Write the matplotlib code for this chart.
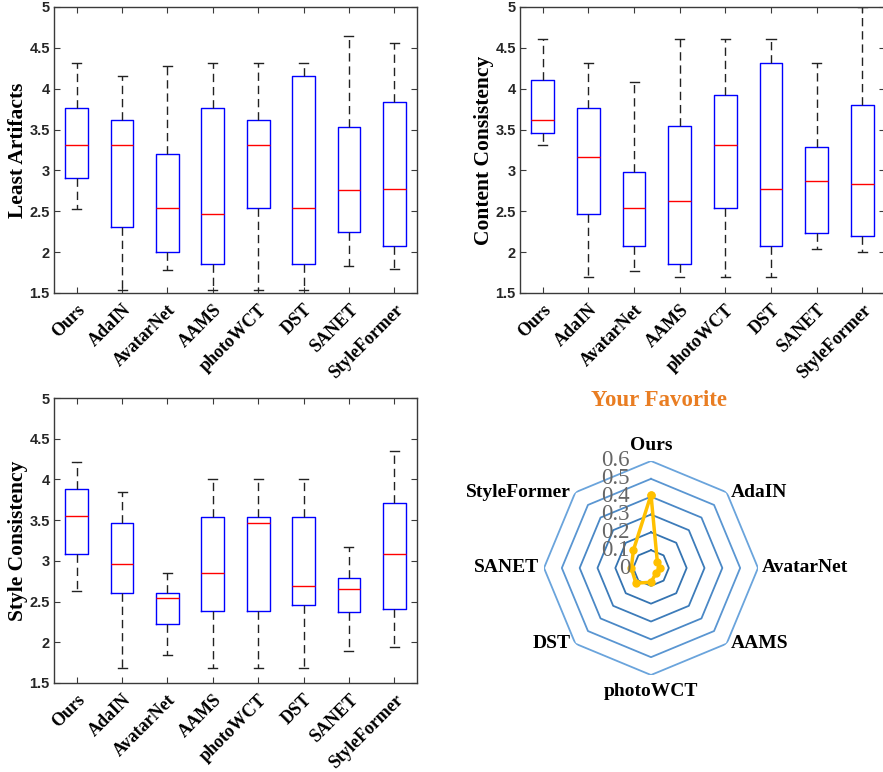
import numpy as np
import matplotlib
matplotlib.use('Agg')
import matplotlib.pyplot as plt
import matplotlib.transforms as mtransforms

methods = ['Ours', 'AdaIN', 'AvatarNet', 'AAMS', 'photoWCT', 'DST', 'SANET', 'StyleFormer']

# box stats per panel: whisker low, q1, median, q3, whisker high
artifacts_lo = [2.53, 1.54, 1.78, 1.54, 1.54, 1.54, 1.83, 1.79]
artifacts_q1 = [2.91, 2.31, 2.00, 1.85, 2.54, 1.85, 2.25, 2.07]
artifacts_med = [3.31, 3.31, 2.54, 2.47, 3.31, 2.54, 2.76, 2.77]
artifacts_q3 = [3.77, 3.62, 3.20, 3.77, 3.62, 4.16, 3.53, 3.84]
artifacts_hi = [4.31, 4.16, 4.28, 4.31, 4.31, 4.31, 4.65, 4.56]

content_lo = [3.31, 1.70, 1.77, 1.70, 1.70, 1.70, 2.04, 2.00]
content_q1 = [3.46, 2.47, 2.08, 1.85, 2.54, 2.08, 2.23, 2.20]
content_med = [3.62, 3.16, 2.54, 2.62, 3.31, 2.77, 2.87, 2.83]
content_q3 = [4.11, 3.77, 2.98, 3.54, 3.92, 4.31, 3.29, 3.80]
content_hi = [4.61, 4.31, 4.08, 4.61, 4.61, 4.61, 4.31, 5.00]

style_lo = [2.63, 1.69, 1.84, 1.69, 1.69, 1.69, 1.89, 1.94]
style_q1 = [3.08, 2.61, 2.22, 2.38, 2.38, 2.46, 2.37, 2.41]
style_med = [3.55, 2.96, 2.54, 2.85, 3.46, 2.69, 2.65, 3.08]
style_q3 = [3.88, 3.46, 2.61, 3.54, 3.54, 3.54, 2.79, 3.71]
style_hi = [4.21, 3.85, 2.85, 4.00, 4.00, 4.00, 3.17, 4.35]

# favourite vote share
favorite = [0.41, 0.05, 0.05, 0.04, 0.08, 0.12, 0.11, 0.14]
rings = [0.1, 0.2, 0.3, 0.4, 0.5, 0.6]
ring_colors = ['#2f6eaa', '#3574b2', '#3d7cba', '#4a88c6', '#5a96d2', '#6aa4dc']

SERIF = ['Liberation Serif', 'DejaVu Serif']
SANS = ['Liberation Sans', 'DejaVu Sans']
EDGE = '#3a3a3a'

fig = plt.figure(figsize=(8.83, 7.72), dpi=100)
W, H = 883.0, 772.0


def px_axes(l, t, r, b, **kw):
    return fig.add_axes([l / W, 1 - b / H, (r - l) / W, (b - t) / H], **kw)


def px_shift(dx, dy):
    return mtransforms.ScaledTranslation(dx / 100, dy / 100, fig.dpi_scale_trans)


def box_panel(ax, lo, q1, med, q3, hi, ylabel):
    stats = []
    for i, m in enumerate(methods):
        stats.append(dict(label=m, whislo=lo[i], q1=q1[i], med=med[i], q3=q3[i], whishi=hi[i], fliers=[]))
    ax.bxp(stats, positions=np.arange(1, len(methods) + 1), widths=0.5, capwidths=0.2,
           showfliers=False,
           boxprops=dict(color='#0000ff', linewidth=1.0),
           medianprops=dict(color='#ff0000', linewidth=1.0),
           whiskerprops=dict(color='#222222', linewidth=1.0, linestyle=(0, (6, 3.5))),
           capprops=dict(color='#222222', linewidth=1.0))
    ax.set_xlim(0.5, 8.5)
    ax.set_ylim(1.5, 5)
    ax.set_yticks([1.5, 2, 2.5, 3, 3.5, 4, 4.5, 5])
    ax.set_yticklabels(['1.5', '2', '2.5', '3', '3.5', '4', '4.5', '5'],
                       family=SANS, fontweight='bold', fontsize=10.5, color='#262626')
    ax.set_xticks(np.arange(1, len(methods) + 1))
    ax.set_xticklabels(methods, rotation=45, ha='right', va='top', rotation_mode='anchor',
                       family=SERIF, fontweight='bold', fontsize=13)
    for lab in ax.get_xticklabels():
        lab.set_transform(lab.get_transform() + px_shift(11, 3))
    ax.tick_params(direction='in', length=4, width=0.8, top=True, right=True, color=EDGE, pad=3)
    ax.tick_params(axis='x', pad=6)
    for s in ax.spines.values():
        s.set_color(EDGE)
        s.set_linewidth(1.0)
    ax.set_ylabel(ylabel, family=SERIF, fontweight='bold', fontsize=15.5, labelpad=1)


ax1 = px_axes(54, 7, 417, 293)
box_panel(ax1, artifacts_lo, artifacts_q1, artifacts_med, artifacts_q3, artifacts_hi, 'Least Artifacts')

ax2 = px_axes(520, 7, 885, 293)
box_panel(ax2, content_lo, content_q1, content_med, content_q3, content_hi, 'Content Consistency')

ax3 = px_axes(54, 398, 417, 683)
box_panel(ax3, style_lo, style_q1, style_med, style_q3, style_hi, 'Style Consistency')

# radar chart
R = 107
cx, cy = 651, 568
ax4 = px_axes(cx - R, cy - R, cx + R, cy + R, projection='polar')
ax4.set_theta_zero_location('N')
ax4.set_theta_direction(-1)
ang = np.linspace(0, 2 * np.pi, len(methods), endpoint=False)
ang_c = np.append(ang, ang[0])
for r, c in zip(rings, ring_colors):
    ax4.plot(ang_c, [r] * len(ang_c), color=c, linewidth=1.3)
vals = np.append(favorite, favorite[0])
ax4.plot(ang_c, vals, color='#ffc000', linewidth=2.5, marker='o', markersize=5, zorder=5)
ax4.set_ylim(0, 0.6)
ax4.grid(False)
ax4.spines['polar'].set_visible(False)
ax4.patch.set_alpha(0)
ax4.set_yticks([])
ax4.set_xticks([])

# category labels around the octagon
for a, m in zip(ang, methods):
    sx, sy = np.sin(a), np.cos(a)
    if abs(sx) < 1e-6:
        ha, dx, dy = 'center', 0, 16 * np.sign(sy)
    elif sx > 0:
        ha, dx, dy = 'left', 4, 0
    else:
        ha, dx, dy = 'right', -5, 0
    ax4.text(a, 0.6, m, transform=ax4.transData + px_shift(dx, dy), ha=ha, va='center',
             family=SERIF, fontweight='bold', fontsize=14, clip_on=False)

for r in [0] + rings:
    ax4.text(0, r, '%g' % r, transform=ax4.transData + px_shift(-21, 0), ha='right', va='center',
             family=SERIF, fontsize=16.5, color='#666666', zorder=6)
fig.text(659 / W, 1 - 401 / H, 'Your Favorite', ha='center', va='center',
         family=SERIF, fontweight='bold', fontsize=16.5, color='#e97d22')

fig.savefig('out.png', dpi=100)
